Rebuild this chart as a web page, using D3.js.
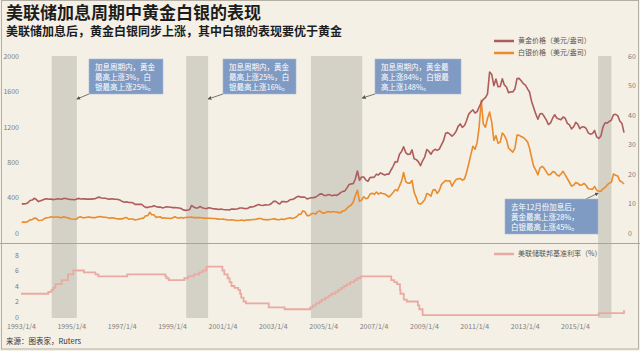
<!DOCTYPE html>
<html>
<head>
<meta charset="utf-8">
<script src="https://d3js.org/d3.v7.min.js"></script>
<style>
  html, body { margin: 0; padding: 0; background: #f4f0e5; }
  svg { display: block; }
</style>
</head>
<body>
<svg id="chart" width="640" height="351"></svg>
<script>
// ---- data ----

// monthly gold price, USD/oz, Jan 1993 .. Dec 2016
const gold = [
  329, 329, 330, 342, 367, 372, 392, 378, 355, 364, 374, 383,     // 1993
  387, 382, 384, 377, 381, 386, 385, 381, 391, 389, 384, 379,     // 1994
  379, 376, 382, 391, 385, 387, 386, 383, 383, 383, 386, 387,     // 1995
  400, 405, 396, 393, 392, 385, 383, 387, 383, 381, 378, 369,     // 1996
  355, 347, 352, 344, 344, 341, 324, 324, 323, 325, 306, 289,     // 1997
  289, 297, 296, 308, 299, 292, 293, 284, 289, 296, 294, 291,     // 1998
  287, 288, 286, 282, 277, 261, 256, 257, 265, 311, 293, 283,     // 1999
  284, 300, 286, 280, 275, 285, 282, 274, 273, 270, 266, 272,     // 2000
  266, 262, 263, 260, 272, 270, 268, 273, 283, 283, 276, 275,     // 2001
  282, 296, 294, 302, 314, 321, 313, 310, 319, 317, 319, 333,     // 2002
  357, 359, 340, 328, 355, 356, 351, 360, 378, 379, 389, 407,     // 2003
  414, 405, 406, 404, 384, 392, 398, 400, 405, 420, 439, 442,     // 2004
  424, 423, 434, 429, 422, 430, 424, 438, 456, 470, 476, 510,     // 2005
  549, 555, 557, 610, 700, 596, 633, 632, 598, 585, 627, 629,     // 2006
  631, 665, 655, 679, 667, 655, 665, 665, 712, 754, 806, 803,     // 2007
  889, 922, 975, 909, 888, 889, 939, 839, 829, 806, 760, 816,     // 2008
  858, 943, 924, 890, 928, 946, 934, 949, 996, 1043, 1127, 1134,  // 2009
  1118, 1095, 1113, 1148, 1205, 1232, 1193, 1215, 1271, 1343, 1370, 1391, // 2010
  1356, 1372, 1424, 1474, 1510, 1529, 1572, 1820, 1790, 1665, 1739, 1652, // 2011
  1656, 1742, 1673, 1650, 1585, 1596, 1594, 1626, 1744, 1747, 1721, 1688, // 2012
  1670, 1628, 1593, 1487, 1414, 1343, 1286, 1347, 1349, 1316, 1275, 1225, // 2013
  1244, 1300, 1336, 1299, 1287, 1279, 1311, 1296, 1239, 1222, 1176, 1200, // 2014
  1251, 1227, 1179, 1198, 1199, 1181, 1131, 1117, 1125, 1159, 1086, 1068, // 2015
  1097, 1200, 1246, 1242, 1260, 1276, 1337, 1341, 1326, 1266, 1238, 1135  // 2016
];

// monthly silver price, USD/oz, same months
const silver = [
  3.68, 3.68, 3.62, 3.90, 4.45, 4.50, 5.05, 4.95, 4.25, 4.32, 4.42, 4.98,    // 1993
  5.15, 5.26, 5.52, 5.35, 5.40, 5.40, 5.30, 5.15, 5.48, 5.30, 5.15, 4.85,    // 1994
  4.72, 4.65, 4.65, 5.28, 5.50, 5.20, 5.15, 5.35, 5.45, 5.30, 5.22, 5.20,    // 1995
  5.45, 5.60, 5.52, 5.35, 5.35, 5.15, 5.05, 5.18, 5.05, 4.85, 4.80, 4.85,    // 1996
  4.78, 5.15, 5.20, 4.70, 4.75, 4.75, 4.40, 4.55, 4.75, 4.95, 5.00, 5.85,    // 1997
  5.85, 7.00, 6.20, 6.20, 5.30, 5.40, 5.50, 5.00, 5.15, 5.00, 5.00, 4.90,    // 1998
  5.15, 5.50, 5.20, 5.05, 5.25, 5.05, 5.25, 5.30, 5.35, 5.40, 5.20, 5.20,    // 1999
  5.20, 5.25, 5.10, 5.05, 5.00, 5.00, 5.00, 4.90, 4.90, 4.80, 4.70, 4.65,    // 2000
  4.70, 4.60, 4.45, 4.40, 4.45, 4.40, 4.25, 4.25, 4.30, 4.40, 4.15, 4.40,    // 2001
  4.50, 4.40, 4.60, 4.60, 4.70, 4.90, 4.90, 4.60, 4.55, 4.45, 4.55, 4.65,    // 2002
  4.80, 4.70, 4.50, 4.55, 4.75, 4.55, 4.80, 5.00, 5.20, 4.90, 5.15, 5.50,    // 2003
  6.30, 6.40, 7.50, 7.20, 5.90, 5.90, 6.50, 6.70, 6.40, 7.20, 7.50, 6.90,    // 2004
  6.70, 7.00, 7.30, 7.00, 7.20, 7.20, 7.10, 6.90, 6.90, 7.50, 7.60, 8.40,    // 2005
  9.00, 9.50, 10.4, 12.6, 14.5, 10.7, 11.2, 12.3, 11.6, 11.9, 13.2, 13.5,    // 2006
  13.1, 13.9, 13.2, 13.6, 13.4, 13.2, 12.8, 12.2, 12.9, 13.7, 14.7, 14.3,    // 2007
  15.9, 17.6, 20.5, 17.4, 16.9, 16.9, 17.8, 13.8, 12.0, 10.0, 9.80, 10.4,    // 2008
  11.3, 13.4, 13.1, 12.5, 14.6, 14.7, 13.4, 14.4, 16.4, 17.2, 17.8, 17.6,    // 2009
  17.7, 15.9, 17.1, 18.1, 18.4, 18.5, 17.9, 18.3, 20.6, 23.4, 26.5, 29.4,    // 2010
  28.4, 30.7, 35.8, 45.0, 37.0, 35.8, 38.8, 41.0, 37.5, 31.4, 33.0, 30.4,    // 2011
  30.8, 33.9, 33.1, 31.6, 28.8, 28.1, 27.4, 28.7, 33.2, 33.1, 32.7, 32.4,    // 2012
  31.7, 30.9, 28.8, 25.5, 22.6, 21.3, 19.7, 22.1, 22.6, 21.9, 20.7, 19.7,    // 2013
  19.9, 20.8, 20.7, 19.7, 19.3, 20.0, 20.9, 19.7, 18.4, 17.2, 15.9, 16.2,    // 2014
  17.1, 16.8, 16.2, 16.3, 16.8, 16.1, 15.0, 14.9, 14.8, 15.8, 14.5, 14.1,    // 2015
  14.2, 15.0, 15.4, 16.3, 16.9, 17.2, 20.0, 19.6, 19.3, 17.7, 17.3, 16.6     // 2016
];

// federal funds target rate (%), value from each change date onward
const rateDates = [
  "1993-01-04", "1994-02-04", "1994-03-22", "1994-04-18", "1994-05-17", "1994-08-16",
  "1994-11-15", "1995-02-01", "1995-07-06", "1995-12-19", "1996-01-31", "1997-03-25",
  "1998-09-29", "1998-10-15", "1998-11-17", "1999-06-30", "1999-08-24", "1999-11-16",
  "2000-02-02", "2000-03-21", "2000-05-16", "2001-01-03", "2001-01-31", "2001-03-20",
  "2001-04-18", "2001-05-15", "2001-06-27", "2001-08-21", "2001-09-17", "2001-10-02",
  "2001-11-06", "2001-12-11", "2002-11-06", "2003-06-25", "2004-06-30", "2004-08-10",
  "2004-09-21", "2004-11-10", "2004-12-14", "2005-02-02", "2005-03-22", "2005-05-03",
  "2005-06-30", "2005-08-09", "2005-09-20", "2005-11-01", "2005-12-13", "2006-01-31",
  "2006-03-28", "2006-05-10", "2006-06-29", "2007-09-18", "2007-10-31", "2007-12-11",
  "2008-01-22", "2008-01-30", "2008-03-18", "2008-04-30", "2008-10-08", "2008-10-29",
  "2008-12-16", "2015-12-16", "2016-12-14", "2016-12-30"
];
const rateValues = [
  3.00, 3.25, 3.50, 3.75, 4.25, 4.75,
  5.50, 6.00, 5.75, 5.50, 5.25, 5.50,
  5.25, 5.00, 4.75, 5.00, 5.25, 5.50,
  5.75, 6.00, 6.50, 6.00, 5.50, 5.00,
  4.50, 4.00, 3.75, 3.50, 3.00, 2.50,
  2.00, 1.75, 1.25, 1.00, 1.25, 1.50,
  1.75, 2.00, 2.25, 2.50, 2.75, 3.00,
  3.25, 3.50, 3.75, 4.00, 4.25, 4.50,
  4.75, 5.00, 5.25, 4.75, 4.50, 4.25,
  3.50, 3.00, 2.25, 2.00, 1.50, 1.00,
  0.25, 0.50, 0.75, 0.75
];

// rate-hike cycles (grey bands)
const hikeStart = ["1994-03-25", "1999-07-28", "2004-07-10", "2015-12-05"];
const hikeEnd   = ["1995-03-25", "2000-06-10", "2006-07-25", "2016-06-15"];

const goldTicks   = [0, 400, 800, 1200, 1600, 2000];
const silverTicks = [0, 10, 20, 30, 40, 50, 60];
const rateTicks   = [0, 2, 4, 6, 8];
const yearTicks   = ["1993-01-04", "1995-01-04", "1997-01-04", "1999-01-04", "2001-01-04", "2003-01-04",
                     "2005-01-04", "2007-01-04", "2009-01-04", "2011-01-04", "2013-01-04", "2015-01-04"];

const notes = [
  ["加息周期内，黄金", "最高上涨3%，白", "银最高上涨25%。"],
  ["加息周期内，黄金", "最高上涨25%，白", "银最高上涨16%。"],
  ["加息周期内，黄金最", "高上涨84%，白银最", "高上涨148%。"],
  ["去年12月份加息后，", "黄金最高上涨28%，", "白银最高上涨45%。"]
];

const titleText    = "美联储加息周期中黄金白银的表现";
const subtitleText = "美联储加息后，黄金白银同步上涨，其中白银的表现要优于黄金";
const sourceText   = "来源：图表家，Ruters";

// ---- drawing ----
const parse = d3.timeParse("%Y-%m-%d");
const FONT = "'Noto Sans CJK SC', 'Noto Sans', sans-serif";
const C_GOLD = "#ad5d5c", C_SILVER = "#ea8b2d", C_RATE = "#eaaaa3";
const C_BAND = "#d4d2c7", C_NOTE = "#7f9bc4", C_TICK = "#7d7d7d";

const svg = d3.select("#chart");

const x = d3.scaleTime()
  .domain([parse("1993-01-04"), parse("2015-01-04")])
  .range([21, 575]);
const yGold   = d3.scaleLinear().domain([0, 2000]).range([233, 56]);
const ySilver = d3.scaleLinear().domain([0, 60]).range([233, 56]);
const yRate   = d3.scaleLinear().domain([0, 8]).range([317, 255]);

const months = gold.map((v, i) => new Date(1993, i, 15));
const goldData   = gold.map((v, i) => ({ date: months[i], v: v }));
const silverData = silver.map((v, i) => ({ date: months[i], v: v }));
const rateData   = rateDates.map((d, i) => ({ date: parse(d), v: rateValues[i] }));

// background
svg.append("rect").attr("x", 0).attr("y", 0).attr("width", 640).attr("height", 351).attr("fill", "#f4f0e5");

// grey bands
const bands = hikeStart.map((s, i) => ({ s: parse(s), e: parse(hikeEnd[i]) }));
svg.append("g").selectAll("rect").data(bands).join("rect")
  .attr("x", d => x(d.s)).attr("width", d => x(d.e) - x(d.s))
  .attr("y", yGold(2000)).attr("height", 243 - yGold(2000))
  .attr("fill", C_BAND);
svg.append("g").selectAll("rect").data(bands).join("rect")
  .attr("x", d => x(d.s)).attr("width", d => x(d.e) - x(d.s))
  .attr("y", 243).attr("height", yRate(0) + 1 - 243)
  .attr("fill", C_BAND);

// panel separator
svg.append("line").attr("x1", 0).attr("x2", 640).attr("y1", 243.5).attr("y2", 243.5)
  .attr("stroke", "#a9a59b").attr("stroke-width", 1);

// lines
svg.append("path").datum(silverData)
  .attr("fill", "none").attr("stroke", C_SILVER).attr("stroke-width", 1.6).attr("stroke-linejoin", "round")
  .attr("d", d3.line().x(d => x(d.date)).y(d => ySilver(d.v)));
svg.append("path").datum(goldData)
  .attr("fill", "none").attr("stroke", C_GOLD).attr("stroke-width", 1.6).attr("stroke-linejoin", "round")
  .attr("d", d3.line().x(d => x(d.date)).y(d => yGold(d.v)));
svg.append("path").datum(rateData)
  .attr("fill", "none").attr("stroke", C_RATE).attr("stroke-width", 1.8)
  .attr("d", d3.line().curve(d3.curveStepAfter).x(d => x(d.date)).y(d => yRate(d.v)));

// axes
function styleAxis(g) {
  g.select(".domain").remove();
  g.selectAll("text").attr("fill", C_TICK).style("font-family", FONT).style("font-size", "7px");
}
svg.append("g").attr("transform", "translate(21,0)")
  .call(d3.axisLeft(yGold).tickValues(goldTicks).tickFormat(d3.format("d")).tickSize(0).tickPadding(2))
  .call(styleAxis);
svg.append("g").attr("transform", "translate(627,0)")
  .call(d3.axisRight(ySilver).tickValues(silverTicks).tickSize(0).tickPadding(1))
  .call(styleAxis);
svg.append("g").attr("transform", "translate(21,0)")
  .call(d3.axisLeft(yRate).tickValues(rateTicks).tickSize(0).tickPadding(2))
  .call(styleAxis);
svg.append("g").attr("transform", `translate(0,${yRate(0)})`)
  .call(d3.axisBottom(x).tickValues(yearTicks.map(parse)).tickFormat(d3.timeFormat("%Y/%-m/%-d"))
    .tickSize(0).tickPadding(7))
  .call(styleAxis);

// legends
const legends = [
  { y: 41, color: C_GOLD, text: "黄金价格（美元/盎司）" },
  { y: 53, color: C_SILVER, text: "白银价格（美元/盎司）" },
  { y: 254, color: C_RATE, text: "美联储联邦基准利率（%）" }
];
const lg = svg.append("g").selectAll("g").data(legends).join("g")
  .attr("transform", d => `translate(494,${d.y})`);
lg.append("line").attr("x1", 0).attr("x2", 20).attr("stroke", d => d.color).attr("stroke-width", 2.5);
lg.append("text").attr("x", 24).attr("dy", "0.35em").text(d => d.text)
  .attr("fill", "#555").style("font-family", FONT).style("font-size", "7px");

// annotation boxes with arrows
svg.append("defs").append("marker").attr("id", "arr")
  .attr("viewBox", "0 0 6 6").attr("refX", 5).attr("refY", 3)
  .attr("markerWidth", 5).attr("markerHeight", 5).attr("orient", "auto")
  .append("path").attr("d", "M0,0L6,3L0,6Z").attr("fill", "#555");

const boxes = [
  { x: 89, y: 59, w: 74, h: 35, ax: 89, ay: 94, tx: x(parse(hikeEnd[0])), ty: 99 },
  { x: 223, y: 59, w: 73, h: 35, ax: 223, ay: 94, tx: x(parse(hikeEnd[1])), ty: 99 },
  { x: 375, y: 59, w: 86, h: 35, ax: 375, ay: 94, tx: x(parse(hikeEnd[2])), ty: 98 },
  { x: 505, y: 199, w: 93, h: 35, ax: 586, ay: 199, tx: x(parse(hikeStart[3])), ty: ySilver(13.5) }
];
boxes.forEach((b, i) => {
  svg.append("line").attr("x1", b.ax).attr("y1", b.ay).attr("x2", b.tx).attr("y2", b.ty)
    .attr("stroke", "#555").attr("stroke-width", 0.8).attr("marker-end", "url(#arr)");
  svg.append("rect").attr("x", b.x).attr("y", b.y).attr("width", b.w).attr("height", b.h)
    .attr("fill", C_NOTE).attr("stroke", "#a9bad4").attr("stroke-width", 0.6);
  svg.append("g").selectAll("text").data(notes[i]).join("text")
    .attr("x", b.x + 6).attr("y", (d, j) => b.y + 11 + j * 10)
    .text(d => d)
    .attr("fill", "#ffffff").style("font-family", FONT).style("font-size", "7.5px");
});

// titles and source
svg.append("text").attr("x", 6).attr("y", 19).text(titleText)
  .attr("fill", "#1c1c1c").style("font-family", FONT).style("font-size", "17px").style("font-weight", "bold");
svg.append("text").attr("x", 6).attr("y", 36).text(subtitleText)
  .attr("fill", "#1c1c1c").style("font-family", FONT).style("font-size", "12px").style("font-weight", "bold");
svg.append("text").attr("x", 6).attr("y", 344).text(sourceText)
  .attr("fill", "#333").style("font-family", FONT).style("font-size", "7.5px");

// outer frame
svg.append("rect").attr("x", 1.5).attr("y", 0.5).attr("width", 637).attr("height", 348.5)
  .attr("fill", "none").attr("stroke", "#b3afa5").attr("stroke-width", 1);
</script>
</body>
</html>
